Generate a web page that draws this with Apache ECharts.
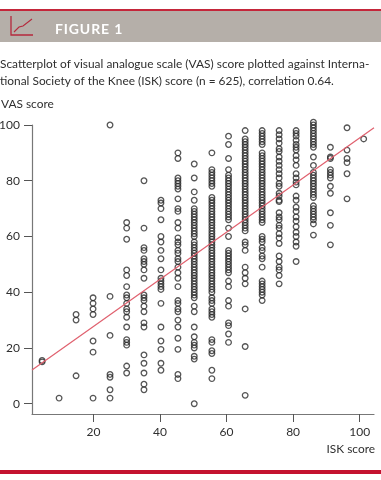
<!DOCTYPE html>
<html><head><meta charset="utf-8">
<style>html,body{margin:0;padding:0;background:#fff}#c{width:381px;height:480px}</style>
<script src="https://cdn.jsdelivr.net/npm/echarts@6/dist/echarts.min.js"></script>
</head><body><div id="c"></div>
<script>
const xTicks = [20, 40, 60, 80, 100];
const yTicks = [0, 20, 40, 60, 80, 100];
const title = 'FIGURE 1';
const captionLines = ['Scatterplot of visual analogue scale (VAS) score plotted against Interna-', 'tional Society of the Knee (ISK) score (n = 625), correlation 0.64.'];
const trendX = [1.56, 104.3];
const trendY = [12.1, 99];
const col05 = [15, 15.5];
const col10 = [2];
const col15 = [32, 30, 10];
const col20 = [38, 36, 34, 32, 22.5, 18.5, 2];
const col25 = [100, 38.5, 24.5, 10.5, 9.5, 5, 2];
const col30 = [65, 63, 59, 48, 46, 42, 39, 38, 36, 34, 33, 31, 27.5, 23, 22, 21, 13.5, 11];
const col35 = [80, 63, 56, 55, 52, 51, 50, 48, 45, 39, 38, 37, 35, 33, 29, 27.5, 17.5, 14.5, 11, 7, 5];
const col40 = [73, 72, 70, 66, 60, 58, 55, 52, 48, 45, 44, 43, 42, 41, 36, 27.5, 22.5, 19.5, 14.5, 12];
const col45 = [90, 88, 81, 80, 79, 78, 77, 73.5, 70, 69, 65, 63, 59.5, 58, 57, 55, 54, 52, 51, 49, 47, 45, 42, 37, 36, 34, 33, 30, 27.5, 23.5, 19.5, 10.5, 9];
const col50 = [86, 81, 76, 73, 70, 69, 68, 67, 66, 65, 64, 63, 62, 61, 60, 58, 57, 56, 55, 54, 53, 52, 51, 50, 49, 48, 47, 46, 45, 44, 43, 42, 41, 40, 39, 38, 35, 33, 27.5, 24, 22, 21, 20, 17, 16, 0];
const col55 = [90, 84, 83, 82, 81, 80, 79, 78, 74, 73, 72, 71, 70, 69, 68, 67, 66, 65, 64, 63, 62, 61, 60, 59, 58, 57, 56, 55, 54, 53, 52, 51, 50, 49, 48, 47, 46, 45, 44, 43, 42, 41, 40, 38, 37, 36, 34, 33, 32, 31, 23, 22, 19, 18, 12, 9];
const col60 = [96, 93, 88, 84, 82, 81, 80, 79, 78, 77, 76, 75, 74, 73, 72, 71, 70, 69, 68, 67, 66, 63, 60, 55, 54, 53, 52, 51, 50, 49, 48, 47, 44, 42, 37, 35, 29, 28, 25, 22];
const col65 = [98, 95, 94, 93, 92, 91, 90, 89, 88, 87, 86, 85, 84, 83, 82, 81, 80, 79, 78, 77, 76, 75, 74, 73, 72, 71, 70, 69, 68, 67, 66, 65, 64, 63, 62, 58, 57, 55, 49, 47, 45, 43, 34, 20.5, 3];
const col70 = [98, 97, 96, 95, 94, 93, 90, 89, 88, 87, 86, 85, 84, 83, 82, 81, 80, 79, 78, 77, 76, 75, 74, 73, 72, 71, 70, 69, 68, 67, 66, 65, 60, 59, 58, 56, 55, 53, 52, 49, 44, 43, 42, 41, 40, 39, 37];
const col75 = [98, 96.5, 95, 93.5, 91.5, 90.5, 88.5, 87, 85.5, 84, 82.5, 81, 79, 78, 75.5, 74.5, 73, 72.5, 68.5, 67, 66, 64, 63, 61, 59.5, 57.5, 53, 51, 49, 48, 46, 43];
const col80 = [98, 97, 96, 94.5, 93, 92, 91, 89, 87.5, 85.5, 82.5, 81, 79.5, 78.5, 74.5, 73, 70.5, 69, 67, 65.5, 63.5, 61.5, 60, 58, 56.5, 51];
const col85 = [101, 100, 99, 98, 97, 96, 95, 94, 93, 92, 88.5, 85.5, 83, 82, 81, 80, 79, 78, 77, 76, 75, 74, 71, 70, 69, 68, 67, 66, 64.5, 60.5];
const col90 = [92, 88.5, 88, 84, 83, 82, 81, 78, 75.5, 68.5, 64, 57];
const col95 = [99, 91, 88, 86.5, 82.5, 73.5];
const col100 = [95];
const columnX = [4.6, 9.7, 14.8, 19.9, 25, 30, 35.2, 40.3, 45.4, 50.3, 55.6, 60.6, 65.6, 70.7, 75.8, 80.9, 86.1, 91.2, 96.2, 101.2];
const columns = [col05, col10, col15, col20, col25, col30, col35, col40, col45, col50, col55, col60, col65, col70, col75, col80, col85, col90, col95, col100];

const points = [];
columns.forEach((c, i) => c.forEach(v => points.push([columnX[i], v])));
const txt = '#2f2f2f';
const font = 'Lato';
const axisC = '#777';
const chart = echarts.init(document.getElementById('c'), null, {renderer: 'canvas'});
chart.setOption({
  animation: false,
  backgroundColor: '#fff',
  grid: {left: 32, right: 7, top: 125, height: 289, containLabel: false, outerBoundsMode: 'none'},
  xAxis: {
    type: 'value', min: 1.56, max: 104.3, splitLine: {show: false},
    axisLine: {onZero: false, lineStyle: {color: axisC, width: 1.2}},
    axisTick: {show: true, length: 8, customValues: xTicks, lineStyle: {color: '#555', width: 1}},
    axisLabel: {customValues: xTicks, color: txt, fontSize: 12, fontFamily: font, margin: 12, formatter: v => String(v)}
  },
  yAxis: {
    type: 'value', min: -3.7, max: 100, splitLine: {show: false},
    axisLine: {show: true, onZero: false, lineStyle: {color: axisC, width: 1.2}},
    axisTick: {show: true, length: 8, customValues: yTicks, lineStyle: {color: '#555', width: 1}},
    axisLabel: {customValues: yTicks, color: txt, fontSize: 12, fontFamily: font, margin: 12, formatter: v => String(v)}
  },
  series: [
    {type: 'scatter', data: points, clip: false, symbol: 'circle', symbolSize: 5.6,
      itemStyle: {color: 'rgba(255,255,255,0)', borderColor: '#2a2a2a', borderWidth: 1.3}},
    {type: 'line', data: trendX.map((x, i) => [x, trendY[i]]), symbol: 'none', clip: false,
      lineStyle: {color: '#e0606e', width: 1.2}, z: 5}
  ],
  graphic: [
    {type: 'rect', shape: {x: 0, y: 10, width: 381, height: 32}, style: {fill: '#b5afa9'}},
    {type: 'rect', shape: {x: 0, y: 9, width: 381, height: 2}, style: {fill: '#c4263a'}},
    {type: 'polyline', shape: {points: [[11, 16], [11, 35], [33, 35]]}, style: {stroke: '#b5293c', lineWidth: 1.3, fill: 'none'}},
    {type: 'polyline', shape: {points: [[14, 32], [19, 27], [23, 26], [32, 19]]}, style: {stroke: '#b5293c', lineWidth: 1.1, fill: 'none'}},
    {type: 'text', x: 55, y: 29, style: {text: title.split('').join('\u200a'), fill: '#fff', font: 'bold 14px ' + font, textVerticalAlign: 'middle'}},
    {type: 'text', x: 0, y: 64, style: {text: captionLines[0], fill: txt, font: '11.9px ' + font, textVerticalAlign: 'middle'}},
    {type: 'text', x: 0, y: 81, style: {text: captionLines[1], fill: txt, font: '11.9px ' + font, textVerticalAlign: 'middle'}},
    {type: 'text', x: 1, y: 104, style: {text: 'VAS score', fill: txt, font: '11.9px ' + font, textVerticalAlign: 'middle'}},
    {type: 'text', x: 375, y: 449, style: {text: 'ISK score', fill: txt, font: '11.9px ' + font, textAlign: 'right', textVerticalAlign: 'middle'}},
    {type: 'rect', shape: {x: 0, y: 470, width: 381, height: 4}, style: {fill: '#c4122f'}}
  ]
});
</script></body></html>
